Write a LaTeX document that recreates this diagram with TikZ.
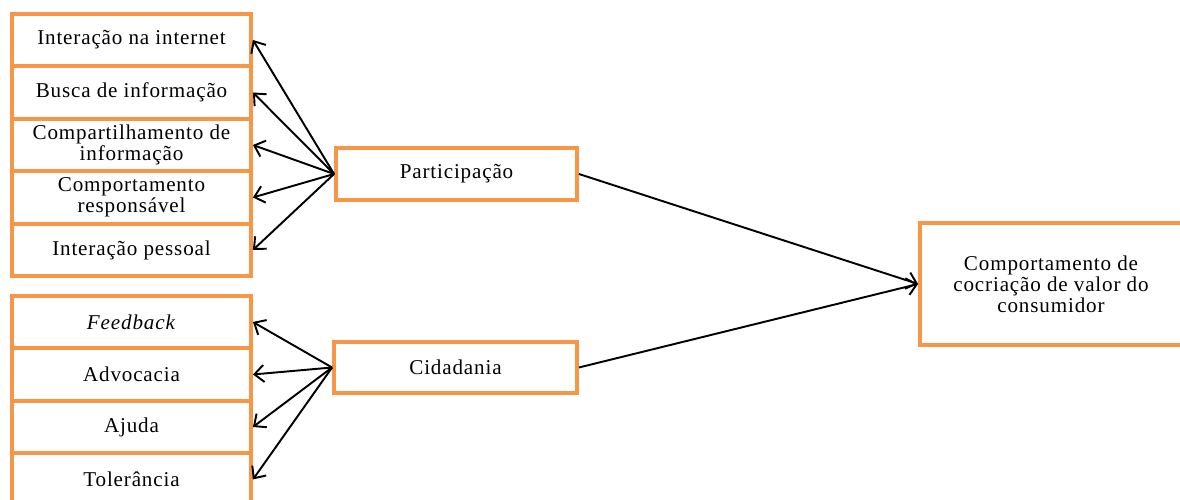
\documentclass[tikz,border=0pt]{standalone}
\usepackage{fontspec}
\setmainfont[LetterSpace=4]{Liberation Serif}
\usepackage{xcolor}
\usepackage{tikz}
\usetikzlibrary{arrows.meta,positioning}
\definecolor{boxorange}{RGB}{247,150,70}

\begin{document}
\begin{tikzpicture}[font=\fontsize{12}{10.8}\selectfont]
\tikzset{el/.style={draw=boxorange, line width=2.2pt, rectangle, fill=white, align=center, minimum width=4.78cm, minimum height=1.05cm},
         link/.style={-{Straight Barb[length=1.9mm,width=3.4mm]}, line width=1.1pt}}

\useasboundingbox (0,0) rectangle (23.6,10);

% Dimensions of participation
\node[el] (inet) at (2.63, 9.2) {Interação na internet};
\node[el] (busca) at (2.63, 8.15) {Busca de informação};
\node[el] (comp) at (2.63, 7.1) {Compartilhamento de\\ informação};
\node[el] (resp) at (2.63, 6.05) {Comportamento\\ responsável};
\node[el] (pess) at (2.63, 5.0) {Interação pessoal};

% Dimensions of citizenship
\node[el] (feed) at (2.63, 3.56) {\textit{Feedback}};
\node[el] (advo) at (2.63, 2.51) {Advocacia};
\node[el] (ajuda) at (2.63, 1.46) {Ajuda};
\node[el] (toler) at (2.63, 0.41) {Tolerância};

% Constructs
\node[el, minimum width=4.82cm, minimum height=1.04cm] (part) at (9.13, 6.52) {Participação};
\node[el, minimum width=4.86cm, minimum height=1.02cm] (cida) at (9.11, 2.65) {Cidadania};
\node[el, minimum width=5.24cm, minimum height=2.44cm] (ccvc) at (21.02, 4.32)
{Comportamento de\\ cocriação de valor do\\ consumidor};

% Connections
\draw[link] (part.west) -- (inet.east);
\draw[link] (part.west) -- (busca.east);
\draw[link] (part.west) -- (comp.east);
\draw[link] (part.west) -- (resp.east);
\draw[link] (part.west) -- (pess.east);

\draw[link] (cida.west) -- (feed.east);
\draw[link] (cida.west) -- (advo.east);
\draw[link] (cida.west) -- (ajuda.east);
\draw[link] (cida.west) -- (toler.east);

\draw[link] (part.east) -- (ccvc.west);
\draw[link] (cida.east) -- (ccvc.west);

\end{tikzpicture}
\end{document}
